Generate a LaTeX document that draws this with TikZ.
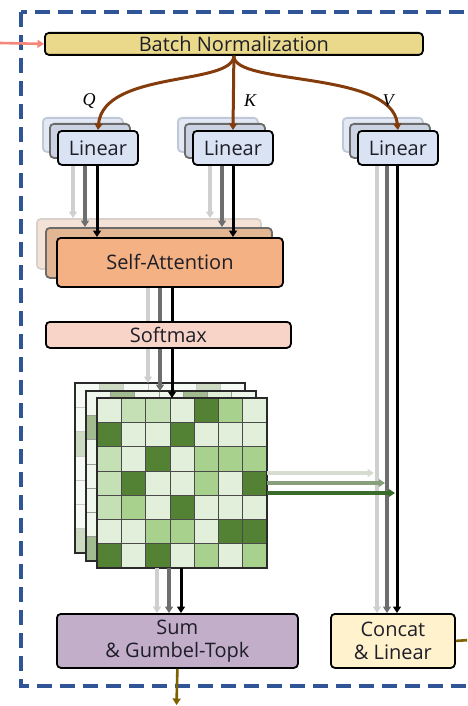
\documentclass[tikz,border=0pt]{standalone}
\usepackage{fontspec}
\setmainfont{Open Sans}
\newfontfamily\qkvfont{Liberation Serif}
\usetikzlibrary{arrows.meta}

\definecolor{frameblue}{HTML}{2F5597}
\definecolor{inpink}{HTML}{F4877A}
\definecolor{bnfill}{HTML}{EAD98A}
\definecolor{qkvbrown}{HTML}{843C0C}
\definecolor{linfill}{HTML}{DAE3F3}
\definecolor{lintwofill}{HTML}{CBD3E3}
\definecolor{lintwoline}{HTML}{6A6A6A}
\definecolor{linthreefill}{HTML}{E3E9F4}
\definecolor{linthreeline}{HTML}{BFC8D8}
\definecolor{safill}{HTML}{F4B183}
\definecolor{satwofill}{HTML}{E2B593}
\definecolor{satwoline}{HTML}{6B6B6B}
\definecolor{sathreefill}{HTML}{F4E2D6}
\definecolor{sathreeline}{HTML}{D8D0CA}
\definecolor{smfill}{HTML}{F8D3C7}
\definecolor{sumfill}{HTML}{C3AECA}
\definecolor{catfill}{HTML}{FFF2CC}
\definecolor{outolive}{HTML}{7F6000}
\definecolor{g1}{HTML}{E2EFDA}
\definecolor{g2}{HTML}{C5E0B4}
\definecolor{g3}{HTML}{A9D18E}
\definecolor{g4}{HTML}{548235}
\definecolor{gridline}{HTML}{4A4A4A}
\definecolor{gridedge}{HTML}{2A2A2A}
\definecolor{lightline}{HTML}{CFCFCF}
\definecolor{midline}{HTML}{6E6E6E}
\definecolor{hlight}{HTML}{D5DDD0}
\definecolor{hmid}{HTML}{87A07B}
\definecolor{hdark}{HTML}{3B6B2B}
\definecolor{txt}{HTML}{1E1E28}

% a 7x7 heat map: name, left, top, tint (percent), rows of colour indices
\newcommand\cellgrid[5]{%
  \foreach \cellrow [count=\gr from 0] in {#5}{%
    \foreach \cellval [count=\gk from 0] in \cellrow{%
      \fill[g\cellval!#4!white] (#2+\gk*24.3,#3+\gr*24.3) rectangle ++(24.3,24.3);
    }%
  }%
  \foreach \gi in {1,...,6}{%
    \draw[gridline!#4!white, line width=0.8pt] (#2+\gi*24.3,#3) -- ++(0,170.1);
    \draw[gridline!#4!white, line width=0.8pt] (#2,#3+\gi*24.3) -- ++(170.1,0);
  }%
  \node[draw=gridedge, line width=1.5pt, minimum size=170.1, inner sep=0pt,
        outer sep=0pt, anchor=north west] (#1) at (#2,#3) {};
}

\begin{document}
\begin{tikzpicture}[x=1pt,y=-1pt,
  box/.style={draw=black, line width=1.8pt, rounded corners=4pt, inner sep=0pt,
    anchor=north west, text=txt, align=center,
    font=\fontsize{20}{23}\selectfont},
  ghost/.style={line width=1.8pt, rounded corners=4pt, inner sep=0pt, anchor=north west},
  tip/.style={-{Triangle[length=6.5pt,width=8pt]}},
  qkv/.style={qkvbrown, line width=3pt, tip},
  lightarrow/.style={lightline, line width=3.6pt, tip},
  midarrow/.style={midline, line width=3.6pt, tip},
  darkarrow/.style={black, line width=3pt, tip},
  lab/.style={font=\qkvfont\itshape\fontsize{18}{18}\selectfont, inner sep=0pt},
]
\useasboundingbox (0,0) rectangle (467,706);
\clip (0,0) rectangle (467,706);

% outer dashed block
\draw[frameblue, line width=3.6pt, dash pattern=on 15pt off 8pt] (21,12) rectangle (500,686);

% column positions of the three parallel streams
\coordinate (qa) at (73,0);  \coordinate (qb) at (85,0);  \coordinate (qc) at (97,0);
\coordinate (ka) at (210,0); \coordinate (kb) at (222,0); \coordinate (kc) at (233,0);
\coordinate (va) at (377,0); \coordinate (vb) at (387,0); \coordinate (vc) at (397,0);
\coordinate (fa) at (148,0); \coordinate (fb) at (160,0); \coordinate (fc) at (172,0);
\coordinate (oa) at (157,0); \coordinate (ob) at (169,0); \coordinate (oc) at (181,0);
\coordinate (ha) at (0,473); \coordinate (hb) at (0,483); \coordinate (hc) at (0,493);

% batch normalization and input
\node[box, fill=bnfill, minimum width=378, minimum height=22] (bn) at (44,32) {Batch Normalization};
\coordinate (in) at (0,43);
\draw[inpink, line width=2.6pt, tip] (in) -- (bn.west);

% linear projections (three stacked heads each)
\foreach \n/\x in {q/57,k/192,v/357}{
  \node[ghost, draw=linthreeline, fill=linthreefill, minimum width=80, minimum height=34] (\n3) at (\x-15,117) {};
  \node[ghost, draw=lintwoline, fill=lintwofill, minimum width=80, minimum height=34] (\n2) at (\x-8,123) {};
  \node[box, fill=linfill, minimum width=80, minimum height=34] (\n1) at (\x,130) {Linear};
}

% Q, K, V branches
\draw[qkv] (bn.south) .. controls (233,86) and (104,70) .. (q1.north);
\draw[qkv] (bn.south) -- (kc |- k1.north);
\draw[qkv] (bn.south) .. controls (233,86) and (392,70) .. (v1.north);
\node[lab] (lq) at (89,101) {Q};
\node[lab] (lk) at (250,101) {K};
\node[lab] (lv) at (388,101) {V};

% self-attention heads
\node[ghost, draw=sathreeline, fill=sathreefill, minimum width=224, minimum height=50] (sa3) at (36,218) {};
\node[ghost, draw=satwoline, fill=satwofill, minimum width=226, minimum height=50] (sa2) at (45,227) {};
\node[box, fill=safill, minimum width=226, minimum height=49] (sa) at (56,237) {Self-Attention};

\draw[lightarrow] (qa |- q1.south) -- (qa |- sa3.north);
\draw[midarrow]   (qb |- q1.south) -- (qb |- sa2.north);
\draw[darkarrow]  (qc |- q1.south) -- (qc |- sa.north);
\draw[lightarrow] (ka |- k1.south) -- (ka |- sa3.north);
\draw[midarrow]   (kb |- k1.south) -- (kb |- sa2.north);
\draw[darkarrow]  (kc |- k1.south) -- (kc |- sa.north);

% attention maps
\cellgrid{g3m}{75}{383}{30}{{1,4,1,1,1,4,1},{1,1,1,4,1,1,1},{4,1,1,1,4,1,1},{1,1,4,1,1,1,4},{1,1,1,1,4,1,1},{1,4,1,1,1,1,1},{4,1,1,4,1,1,1}}
\cellgrid{g2m}{86}{391}{55}{{1,4,1,1,4,2,1},{4,1,1,1,2,1,1},{1,1,3,1,1,4,1},{1,1,4,1,1,1,2},{1,3,1,1,4,1,1},{1,1,1,2,1,1,3},{4,1,1,3,1,4,1}}
\cellgrid{g1m}{97}{398}{100}{{1,2,2,1,4,3,1},{4,1,1,4,1,1,1},{2,1,4,1,3,3,3},{2,4,1,1,3,1,4},{2,3,1,4,1,1,1},{1,1,3,3,1,4,4},{4,1,4,1,3,1,3}}

\draw[lightarrow] (fa |- sa.south) -- (fa |- g3m.north);
\draw[midarrow]   (fb |- sa.south) -- (fb |- g2m.north);
\draw[darkarrow]  (fc |- sa.south) -- (fc |- g1m.north);

\node[box, fill=smfill, minimum width=245, minimum height=26] (sm) at (45,321) {Softmax};

% output blocks
\node[box, fill=sumfill, minimum width=241, minimum height=54] (sum) at (56,613) {Sum\\\& Gumbel-Topk};
\node[box, fill=catfill, minimum width=124, minimum height=54] (cat) at (330,613) {Concat\\\& Linear};

\draw[lightarrow] (oa |- g1m.south) -- (oa |- sum.north);
\draw[midarrow]   (ob |- g1m.south) -- (ob |- sum.north);
\draw[darkarrow]  (oc |- g1m.south) -- (oc |- sum.north);

\draw[lightarrow] (va |- v1.south) -- (va |- cat.north);
\draw[midarrow]   (vb |- v1.south) -- (vb |- cat.north);
\draw[darkarrow]  (vc |- v1.south) -- (vc |- cat.north);

% attention weights applied to V
\draw[hlight, line width=3.4pt, tip, shorten >=3pt] (g1m.east |- ha) -- (va |- ha);
\draw[hmid, line width=3.4pt, tip, shorten >=2pt] (g1m.east |- hb) -- (vb |- hb);
\draw[hdark, line width=3.2pt, tip, shorten >=2pt] (g1m.east |- hc) -- (vc |- hc);

% block outputs
\coordinate (out) at (176.5,705);
\coordinate (exit) at (470,640);
\draw[outolive, line width=2.6pt, tip] (sum.south) -- (out);
\draw[outolive, line width=2.6pt] (cat.east) -- (exit);
\end{tikzpicture}
\end{document}
